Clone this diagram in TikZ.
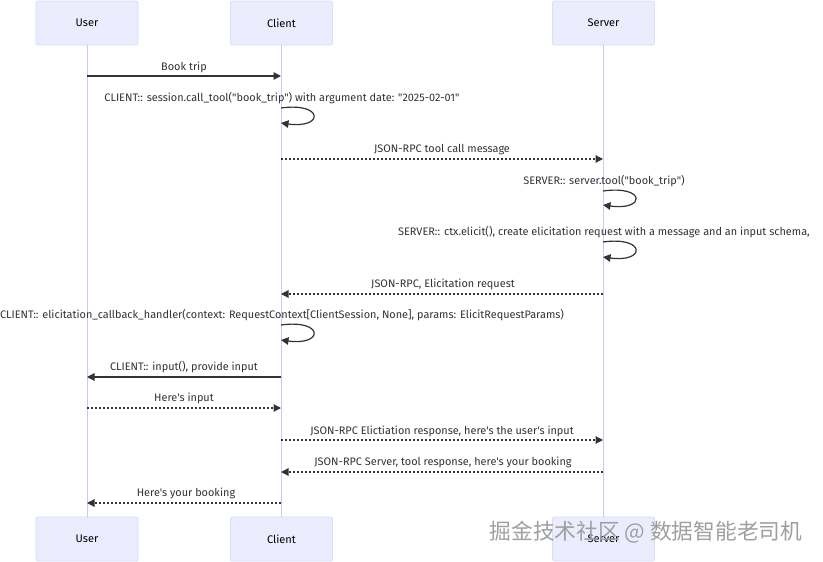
\documentclass[tikz,border=0pt]{standalone}
\usepackage{fontspec}
\newfontfamily\msgfont{Fira Sans}
\newfontfamily\cjk{Noto Sans CJK SC}
\usetikzlibrary{arrows.meta}
\definecolor{actfill}{HTML}{ECECFF}
\definecolor{actdraw}{HTML}{DCDCF2}
\definecolor{life}{HTML}{CFC8F0}
\definecolor{msg}{HTML}{333333}
\begin{document}
\begin{tikzpicture}[x=1pt,y=-1pt,
  actor/.style={draw=actdraw, fill=actfill, rounded corners=2pt, minimum width=102pt, minimum height=44pt, font=\msgfont\fontsize{11}{13}\selectfont, text=black, line width=0.8pt},
  lifeline/.style={draw=life, line width=1pt},
  msgsolid/.style={draw=msg, line width=1.2pt, -{Triangle[length=7.5pt,width=7.5pt]}},
  msgdot/.style={msgsolid, dash pattern=on 2pt off 2pt},
  lbl/.style={font=\msgfont\fontsize{10.9}{12}\selectfont, text=msg, inner sep=0pt},
  wm/.style={font=\cjk\fontsize{21.7}{22}\selectfont, text=gray!75, inner sep=0pt}]
\useasboundingbox[fill=white] (0,0) rectangle (823,562);
% actors
\node[actor] (ut) at (87,23) {User};
\node[actor] (ct) at (281.5,23) {Client};
\node[actor] (st) at (603.5,23) {Server};
\node[actor] (ub) at (87,539) {User};
\node[actor] (cb) at (281.5,539) {Client};
\node[actor] (sb) at (603.5,539) {Server};
\draw[lifeline] (ut) -- (ub);
\draw[lifeline] (ct) -- (cb);
\draw[lifeline] (st) -- (sb);
% points on lifelines
\coordinate (u1) at (87,76);   \coordinate (c1) at (281,76);
\coordinate (c2a) at (281,108); \coordinate (c2b) at (281,123);
\coordinate (c3) at (281,159);  \coordinate (s3) at (603,159);
\coordinate (s4a) at (603,191); \coordinate (s4b) at (603,205);
\coordinate (s5a) at (603,242); \coordinate (s5b) at (603,257);
\coordinate (s6) at (603,294);  \coordinate (c6) at (281,294);
\coordinate (c7a) at (281,325); \coordinate (c7b) at (281,340);
\coordinate (c8) at (281,377);  \coordinate (u8) at (87,377);
\coordinate (u9) at (87,408);   \coordinate (c9) at (281,408);
\coordinate (c10) at (281,440); \coordinate (s10) at (603,440);
\coordinate (s11) at (603,472); \coordinate (c11) at (281,472);
\coordinate (c12) at (281,503); \coordinate (u12) at (87,503);
% messages
\node[lbl] (l1) at (184,67) {Book trip};
\draw[msgsolid] (u1) -- (c1);
\node[lbl] (l2) at (282,98) {CLIENT:: session.call\_tool("book\_trip") with argument date: "2025-02-01"};
\draw[msgsolid] (c2a) .. controls +(43,-6) and +(43,6) .. (c2b);
\node[lbl] (l3) at (442,150) {JSON-RPC tool call message};
\draw[msgdot] (c3) -- (s3);
\node[lbl] (l4) at (604,181) {SERVER:: server.tool("book\_trip")};
\draw[msgsolid] (s4a) .. controls +(43,-6) and +(43,6) .. (s4b);
\node[lbl] (l5) at (604,232) {SERVER:: ctx.elicit(), create elicitation request with a message and an input schema,};
\draw[msgsolid] (s5a) .. controls +(43,-6) and +(43,6) .. (s5b);
\node[lbl] (l6) at (443,284) {JSON-RPC, Elicitation request};
\draw[msgdot] (s6) -- (c6);
\node[lbl] (l7) at (282,315) {CLIENT:: elicitation\_callback\_handler(context: RequestContext[ClientSession, None], params: ElicitRequestParams)};
\draw[msgsolid] (c7a) .. controls +(43,-6) and +(43,6) .. (c7b);
\node[lbl] (l8) at (184,367) {CLIENT:: input(), provide input};
\draw[msgsolid] (c8) -- (u8);
\node[lbl] (l9) at (184,398) {Here's input};
\draw[msgdot] (u9) -- (c9);
\node[lbl] (l10) at (442,431) {JSON-RPC Elictiation response, here's the user's input};
\draw[msgdot] (c10) -- (s10);
\node[lbl] (l11) at (443,462) {JSON-RPC Server, tool response, here's your booking};
\draw[msgdot] (s11) -- (c11);
\node[lbl] (l12) at (186,493) {Here's your booking};
\draw[msgdot] (c12) -- (u12);
% watermark
\node[wm] (w) at (646,532) {掘金技术社区 @ 数据智能老司机};
\end{tikzpicture}
\end{document}
